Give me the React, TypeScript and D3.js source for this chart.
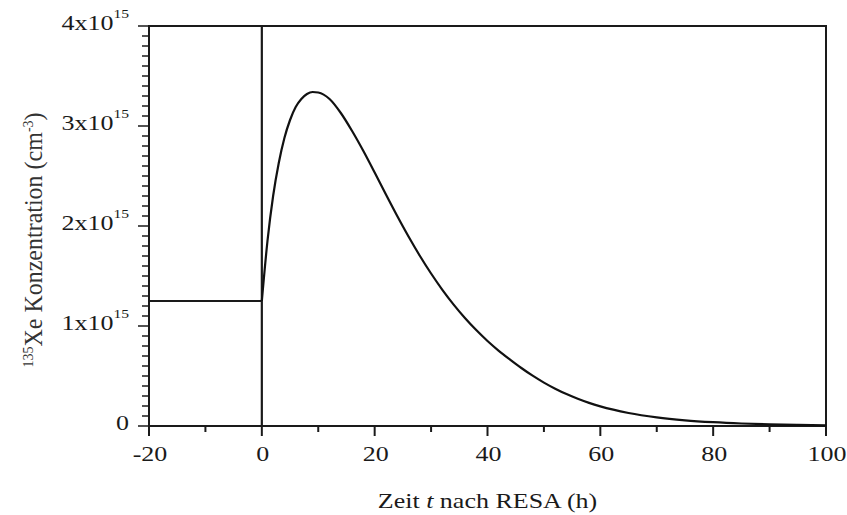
import React, { useEffect, useRef } from 'react';
import * as d3 from 'd3';

// Xe-135 concentration (units of 1e15 cm^-3)
const preTimes = [-20, 0];
const preValues = [1.25, 1.25];

const decayTimes = [0, 1, 2, 3, 4, 5, 6, 7, 8, 9, 10, 12, 14, 16, 18, 20, 22, 24, 26, 28, 30, 32, 34, 36, 38, 40, 42, 44, 46, 48, 50, 52, 54, 56, 58, 60, 65, 70, 75, 80, 85, 90, 95, 100];
const decayValues = [1.25, 1.85, 2.3, 2.63, 2.88, 3.06, 3.19, 3.27, 3.32, 3.34, 3.335, 3.27, 3.13, 2.95, 2.75, 2.535, 2.315, 2.1, 1.895, 1.703, 1.525, 1.362, 1.214, 1.08, 0.959, 0.85, 0.752, 0.664, 0.58, 0.503, 0.434, 0.373, 0.319, 0.272, 0.231, 0.196, 0.13, 0.086, 0.057, 0.038, 0.025, 0.0165, 0.011, 0.007];

const xTicks = [-20, 0, 20, 40, 60, 80, 100];
const xMinorTicks = [-10, 10, 30, 50, 70, 90];
const yTicks = [0, 1, 2, 3, 4];
const yTickLabels = ['0', '1x10', '2x10', '3x10', '4x10'];

const App = () => {
  const svgRef = useRef<SVGSVGElement>(null);

  useEffect(() => {
    const svg = d3.select(svgRef.current);
    svg.selectAll('*').remove();

    const width = 847;
    const height = 515;
    const margin = { top: 26, right: 21, bottom: 89, left: 149 };
    const font = '"Liberation Serif", "Times New Roman", serif';
    const ink = '#1a1a1a';

    const x = d3.scaleLinear().domain([-20, 100]).range([margin.left, width - margin.right]);
    const y = d3.scaleLinear().domain([0, 4]).range([height - margin.bottom, margin.top]);

    svg.attr('width', width).attr('height', height);

    // frame
    svg.append('rect')
      .attr('x', x(-20)).attr('y', y(4))
      .attr('width', x(100) - x(-20)).attr('height', y(0) - y(4))
      .attr('fill', 'none').attr('stroke', ink).attr('stroke-width', 2);

    // x ticks
    const xAxis = svg.append('g').attr('stroke', ink).attr('stroke-width', 2);
    xTicks.forEach(t => {
      xAxis.append('line').attr('x1', x(t)).attr('x2', x(t)).attr('y1', y(0)).attr('y2', y(0) + 10);
    });
    xMinorTicks.forEach(t => {
      xAxis.append('line').attr('x1', x(t)).attr('x2', x(t)).attr('y1', y(0)).attr('y2', y(0) + 6);
    });

    // y ticks
    const yAxis = svg.append('g').attr('stroke', ink).attr('stroke-width', 1.5);
    d3.range(0, 41).forEach(i => {
      const v = i / 10;
      const len = i % 10 === 0 ? 11 : 7;
      yAxis.append('line').attr('x1', x(-20) - len).attr('x2', x(-20)).attr('y1', y(v)).attr('y2', y(v));
    });

    // x tick labels
    xTicks.forEach(t => {
      svg.append('text')
        .attr('transform', `translate(${x(t) + 1}, 461) scale(1.3, 1)`)
        .attr('text-anchor', 'middle')
        .attr('font-family', font).attr('font-size', 20).attr('fill', ink)
        .text(t < 0 ? `-${Math.abs(t)}` : String(t));
    });

    // y tick labels
    yTicks.forEach((v, i) => {
      const txt = svg.append('text')
        .attr('transform', `translate(129, ${y(v) + 4}) scale(1.3, 1)`)
        .attr('text-anchor', 'end')
        .attr('font-family', font).attr('font-size', 20).attr('fill', ink);
      txt.append('tspan').text(yTickLabels[i]);
      if (v > 0) {
        txt.append('tspan').attr('font-size', 12).attr('dy', -12).text('15');
      }
    });

    // axis titles
    const xt = svg.append('text')
      .attr('transform', `translate(${(x(-20) + x(100)) / 2}, 508) scale(1.3, 1)`)
      .attr('text-anchor', 'middle')
      .attr('font-family', font).attr('font-size', 20).attr('fill', ink);
    xt.append('tspan').text('Zeit ');
    xt.append('tspan').attr('font-style', 'italic').text('t');
    xt.append('tspan').text(' nach RESA (h)');

    const yt = svg.append('text')
      .attr('transform', `translate(42, 240) rotate(-90) scale(1, 1.05)`)
      .attr('text-anchor', 'middle')
      .attr('font-family', font).attr('font-size', 24).attr('fill', '#333');
    yt.append('tspan').attr('font-size', 14).attr('dy', -9).text('135');
    yt.append('tspan').attr('dy', 9).text('Xe Konzentration (cm');
    yt.append('tspan').attr('font-size', 14).attr('dy', -9).text('-3');
    yt.append('tspan').attr('dy', 9).text(')');

    // shutdown marker at t = 0
    svg.append('line')
      .attr('x1', x(0)).attr('x2', x(0)).attr('y1', y(4)).attr('y2', y(0))
      .attr('stroke', ink).attr('stroke-width', 2.2);

    const line = d3.line<number>()
      .curve(d3.curveMonotoneX);

    // steady state before shutdown
    svg.append('path')
      .attr('d', line.x((_, i) => x(preTimes[i])).y((_, i) => y(preValues[i]))(preTimes))
      .attr('fill', 'none').attr('stroke', ink).attr('stroke-width', 2);

    // xenon build-up and decay after shutdown
    svg.append('path')
      .attr('d', line.x((_, i) => x(decayTimes[i])).y((_, i) => y(decayValues[i]))(decayTimes))
      .attr('fill', 'none').attr('stroke', '#111').attr('stroke-width', 2.2);
  }, []);

  return (
    <div style={{ position: 'absolute', left: 0, top: 0, background: '#fff' }}>
      <svg ref={svgRef} style={{ display: 'block' }}></svg>
    </div>
  );
};

export default App;
